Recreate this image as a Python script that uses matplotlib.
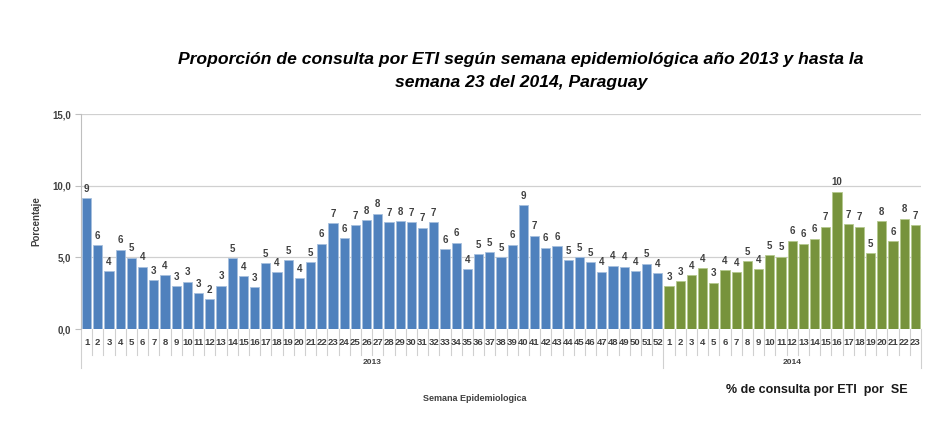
import matplotlib.pyplot as plt
import matplotlib.transforms as mtransforms

# % de consulta por ETI, semanas epidemiologicas
semanas_2013 = list(range(1, 53))
valores_2013 = [9.12, 5.87, 4.04, 5.54, 4.97, 4.36, 3.42, 3.74, 2.98, 3.30,
                2.52, 2.10, 3.03, 4.94, 3.67, 2.91, 4.57, 3.95, 4.78, 3.53,
                4.64, 5.96, 7.39, 6.35, 7.25, 7.61, 8.04, 7.46, 7.53, 7.46,
                7.07, 7.44, 5.57, 6.03, 4.16, 5.20, 5.38, 4.99, 5.89, 8.66,
                6.52, 5.68, 5.77, 4.78, 4.99, 4.67, 4.00, 4.41, 4.36, 4.04,
                4.55, 3.90]
semanas_2014 = list(range(1, 24))
valores_2014 = [2.99, 3.33, 3.75, 4.26, 3.24, 4.10, 3.98, 4.72, 4.17, 5.16,
                5.05, 6.16, 5.95, 6.30, 7.15, 9.58, 7.31, 7.15, 5.28, 7.52,
                6.11, 7.69, 7.25]
anios = ['2013', '2014']

azul = '#4F81BD'
verde = '#77933C'
gris = '#BFBFBF'
texto = '#404040'

plt.rcParams['font.family'] = ['Liberation Sans', 'DejaVu Sans']

fig = plt.figure(figsize=(9.29, 4.23), dpi=100)
ax = fig.add_axes([81 / 929, 94 / 423, 840 / 929, 215 / 423])

n1 = len(valores_2013)
n2 = len(valores_2014)
x1 = list(range(n1))
x2 = list(range(n1, n1 + n2))

ax.bar(x1, valores_2013, width=0.82, color=azul, edgecolor='#A7C0DE', linewidth=0.6, zorder=3)
ax.bar(x2, valores_2014, width=0.82, color=verde, edgecolor='#B5C98E', linewidth=0.6, zorder=3)

# etiquetas de datos (redondeadas)
for xs, vs in ((x1, valores_2013), (x2, valores_2014)):
    for x, v in zip(xs, vs):
        ax.text(x, v + 0.3, '%d' % int(v + 0.5), ha='center', va='bottom',
                fontsize=7, fontweight='bold', color=texto)

ax.set_xlim(-0.5, n1 + n2 - 0.5)
ax.set_ylim(0, 15)
ax.set_yticks([0, 5, 10, 15])
ax.set_yticklabels(['0,0', '5,0', '10,0', '15,0'], fontsize=7, fontweight='bold', color=texto)
ax.yaxis.grid(True, color='#D0D0D0', linewidth=0.9, zorder=0)
ax.set_axisbelow(True)
ax.set_xticks([])
ax.tick_params(axis='y', length=4, color=gris, pad=3)
for s in ('top', 'right', 'bottom'):
    ax.spines[s].set_visible(False)
ax.spines['left'].set_color(gris)

# etiquetas de semanas y separadores
trans = mtransforms.blended_transform_factory(ax.transData, ax.transAxes)
semanas = semanas_2013 + semanas_2014
for i, s in enumerate(semanas):
    ax.text(i, -0.065, str(s), transform=trans, ha='center', va='center',
            fontsize=6.8, fontweight='bold', color=texto)
for i in range(n1 + n2 + 1):
    largo = -0.183 if i in (0, n1, n1 + n2) else -0.121
    ax.plot([i - 0.5, i - 0.5], [0, largo], transform=trans, color='#D0D0D0',
            linewidth=0.8, clip_on=False)
ax.text((n1 - 1) / 2, -0.155, anios[0], transform=trans, ha='center', va='center',
        fontsize=6, fontweight='bold', color=texto)
ax.text(n1 + (n2 - 1) / 2, -0.155, anios[1], transform=trans, ha='center', va='center',
        fontsize=6, fontweight='bold', color=texto)

ax.set_ylabel('Porcentaje', fontsize=7, fontweight='bold', color=texto, labelpad=8)
fig.text(475 / 929, 1 - 398 / 423, 'Semana Epidemiologica', ha='center', va='center',
         fontsize=6.5, fontweight='bold', color=texto)
fig.text(817 / 929, 1 - 390 / 423, '% de consulta por ETI  por  SE', ha='center', va='center',
         fontsize=9, fontweight='bold', color='#1A1A1A')

fig.text(521 / 929, 1 - 71 / 423,
         'Proporción de consulta por ETI según semana epidemiológica año 2013 y hasta la\n'
         'semana 23 del 2014, Paraguay',
         ha='center', va='center', fontsize=12.6, fontweight='bold', fontstyle='italic',
         color='black', linespacing=1.6)

plt.savefig('out.png', dpi=100)
